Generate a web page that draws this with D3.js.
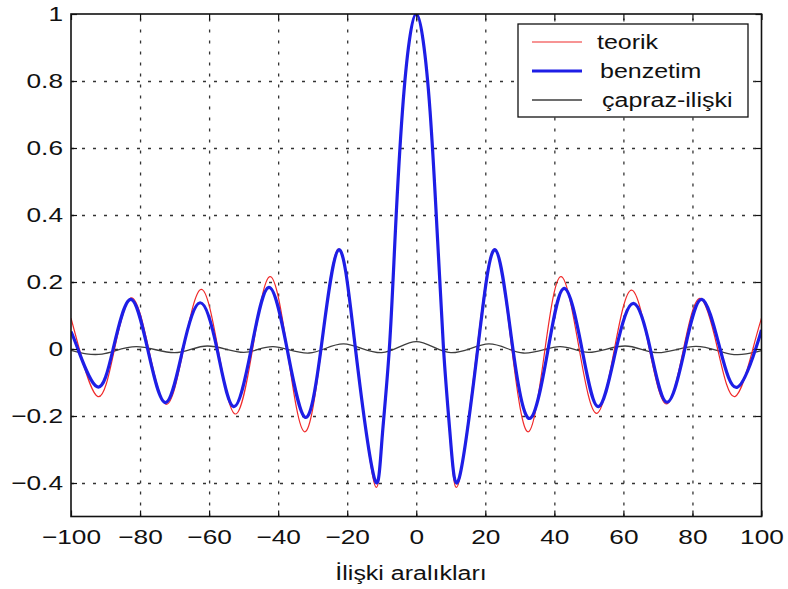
<!DOCTYPE html>
<html>
<head>
<meta charset="UTF-8">
<title>İlişki</title>
<script src="https://cdn.jsdelivr.net/npm/d3@7/dist/d3.min.js"></script>
<style>
	body { margin: 0; background: #fff; }
	text { font-family: "Liberation Sans", Arial, Helvetica, sans-serif; fill: #111; }
</style>
</head>
<body>
<script>
	// --- data (lag, correlation) ---
	var xTicks = [-100, -80, -60, -40, -20, 0, 20, 40, 60, 80, 100];
	var yTicks = [-0.4, -0.2, 0, 0.2, 0.4, 0.6, 0.8, 1];
	var seriesNames = ["teorik", "benzetim", "çapraz-ilişki"];

	// teorik (red)
	var teorikLag = [-100, -97.6, -92.2, -87.4, -82.5, -77.5, -72.4, -67.4, -62.3, -57.4, -52.4, -47.4, -42.4, -37.4, -32.4, -27.5, -22.6, -17.5, -12.3, -10, -7.8, -6, -4, -2, 0,
		2, 4, 6, 7.9, 10, 12.4, 17.6, 22.8, 27.7, 32.5, 37.3, 42, 47.2, 52.3, 57.4, 62.4, 67.5, 72.5, 77.4, 82.2, 87.3, 92.3, 97.5, 100];
	var teorikVal = [0.092, 0, -0.142, 0, 0.153, 0, -0.165, 0, 0.178, 0, -0.194, 0, 0.216, 0, -0.247, 0, 0.298, 0, -0.395, -0.29, 0, 0.36, 0.71, 0.92, 1,
		0.92, 0.71, 0.36, 0, -0.29, -0.395, 0, 0.298, 0, -0.247, 0, 0.216, 0, -0.192, 0, 0.176, 0, -0.164, 0, 0.151, 0, -0.142, 0, 0.092];

	// benzetim (blue)
	var benzetimLag = [-100, -98, -92.4, -87.8, -82.8, -77.8, -72.6, -67.6, -62.6, -57.7, -52.9, -47.8, -42.7, -37.4, -32.2, -27.6, -22.5, -17.6, -12.2, -10, -7.8, -6, -4, -2, 0,
		2, 4, 6, 7.9, 10, 12.5, 17.8, 22.9, 28, 33, 38.2, 42.9, 48, 52.8, 57.9, 62.9, 67.8, 72.6, 77.8, 82.7, 88, 93, 98.3, 100];
	var benzetimVal = [0.052, 0, -0.113, 0, 0.148, 0, -0.160, 0, 0.138, 0, -0.172, 0, 0.184, 0, -0.204, 0, 0.296, 0, -0.383, -0.28, 0, 0.36, 0.71, 0.92, 1,
		0.92, 0.71, 0.36, 0, -0.28, -0.383, 0, 0.296, 0, -0.207, 0, 0.181, 0, -0.172, 0, 0.136, 0, -0.159, 0, 0.148, 0, -0.114, 0, 0.057];

	// çapraz-ilişki (gray)
	var caprazLag = [-100, -91, -81, -70, -60.5, -50, -41.5, -31, -21, -10, 0, 10, 21, 31, 41.5, 50, 60.5, 70, 81, 91, 100];
	var caprazVal = [-0.004, -0.015, 0.007, -0.011, 0.009, -0.010, 0.007, -0.012, 0.015, -0.011, 0.022, -0.011, 0.015, -0.012, 0.007, -0.010, 0.009, -0.011, 0.008, -0.015, -0.005];

	var colours = ["#f02a2a", "#1e1ee6", "#3e3e3e"];
	var widths = [1.2, 3.2, 1.3];

	// frame of the axes
	var W = 788, H = 589;
	var plotLeft = 71, plotRight = 761.5, plotTop = 14, plotBottom = 516.5;
	var sx = 1.25; // text in the picture is stretched sideways

	var svg = d3.select("body").append("svg")
		.attr("width", W)
		.attr("height", H);

	svg.append("rect").attr("width", W).attr("height", H).attr("fill", "#fff");

	var x = d3.scaleLinear().domain([-100, 100]).range([plotLeft, plotRight]);
	var y = d3.scaleLinear().domain([-0.5, 1]).range([plotBottom, plotTop]);

	// grid lines
	var gx = svg.append("g")
		.attr("transform", "translate(0," + plotBottom + ")")
		.call(d3.axisBottom(x).tickValues(xTicks.slice(1, -1)).tickSize(-(plotBottom - plotTop)).tickFormat(""));
	var gy = svg.append("g")
		.attr("transform", "translate(" + plotLeft + ",0)")
		.call(d3.axisLeft(y).tickValues(yTicks.slice(0, -1)).tickSize(-(plotRight - plotLeft)).tickFormat(""));
	[gx, gy].forEach(function(g) {
		g.select(".domain").remove();
		g.selectAll("line")
			.attr("stroke", "#333")
			.attr("stroke-width", 1.3)
			.attr("stroke-dasharray", "3,8");
	});

	// series
	var data = [
		{ lag: teorikLag, val: teorikVal },
		{ lag: benzetimLag, val: benzetimVal },
		{ lag: caprazLag, val: caprazVal }
	];
	var line = d3.line()
		.x(function(d) { return x(d[0]); })
		.y(function(d) { return y(d[1]); })
		.curve(d3.curveNatural);

	svg.append("clipPath").attr("id", "clip")
		.append("rect").attr("x", plotLeft).attr("y", plotTop).attr("width", plotRight - plotLeft).attr("height", plotBottom - plotTop);

	// gray first, then red, blue on top
	[2, 0, 1].forEach(function(k) {
		var s = data[k];
		var pts = s.lag.map(function(l, j) { return [l, s.val[j]]; });
		svg.append("path")
			.attr("clip-path", "url(#clip)")
			.attr("d", line(pts))
			.attr("fill", "none")
			.attr("stroke", colours[k])
			.attr("stroke-width", widths[k])
			.attr("stroke-linejoin", "round");
	});

	// axes with inward ticks (all four sides)
	var fmt = function(d) { return (d < 0 ? "\u2212" : "") + Math.abs(d); };

	var axB = svg.append("g")
		.attr("transform", "translate(0," + plotBottom + ")")
		.call(d3.axisBottom(x).tickValues(xTicks).tickSize(-6).tickPadding(13).tickFormat(fmt));
	var axL = svg.append("g")
		.attr("transform", "translate(" + plotLeft + ",0)")
		.call(d3.axisLeft(y).tickValues(yTicks).tickSize(-6).tickPadding(6.4).tickFormat(fmt));
	var axT = svg.append("g")
		.attr("transform", "translate(0," + plotTop + ")")
		.call(d3.axisTop(x).tickValues(xTicks).tickSize(-6).tickFormat(""));
	var axR = svg.append("g")
		.attr("transform", "translate(" + plotRight + ",0)")
		.call(d3.axisRight(y).tickValues(yTicks).tickSize(-6).tickFormat(""));

	[axB, axL, axT, axR].forEach(function(g) {
		g.select(".domain").remove();
		g.selectAll("line").attr("stroke", "#111").attr("stroke-width", 1.2);
		g.selectAll("text")
			.attr("font-size", 21)
			.attr("font-family", "Liberation Sans, Arial, sans-serif")
			.attr("fill", "#111")
			.attr("transform", "scale(" + sx + ",1)");
	});

	svg.append("rect")
		.attr("x", plotLeft).attr("y", plotTop)
		.attr("width", plotRight - plotLeft).attr("height", plotBottom - plotTop)
		.attr("fill", "none")
		.attr("stroke", "#111")
		.attr("stroke-width", 1.6);

	// x axis title
	svg.append("text")
		.attr("transform", "translate(" + 411 + "," + 580 + ") scale(" + sx + ",1)")
		.attr("text-anchor", "middle")
		.attr("font-size", 20)
		.text("İlişki aralıkları");

	// legend
	var legend = svg.append("g");
	legend.append("rect")
		.attr("x", 518).attr("y", 24)
		.attr("width", 230).attr("height", 93)
		.attr("fill", "#fff")
		.attr("stroke", "#111")
		.attr("stroke-width", 1.3);

	var rowY = [42, 71, 100];
	var textX = [597, 600, 602];
	seriesNames.forEach(function(name, k) {
		legend.append("line")
			.attr("x1", 532).attr("x2", 582)
			.attr("y1", rowY[k]).attr("y2", rowY[k])
			.attr("stroke", colours[k])
			.attr("stroke-width", widths[k]);
		legend.append("text")
			.attr("transform", "translate(" + textX[k] + "," + (rowY[k] + 7) + ") scale(" + sx + ",1)")
			.attr("font-size", 20)
			.text(name);
	});
</script>
</body>
</html>
